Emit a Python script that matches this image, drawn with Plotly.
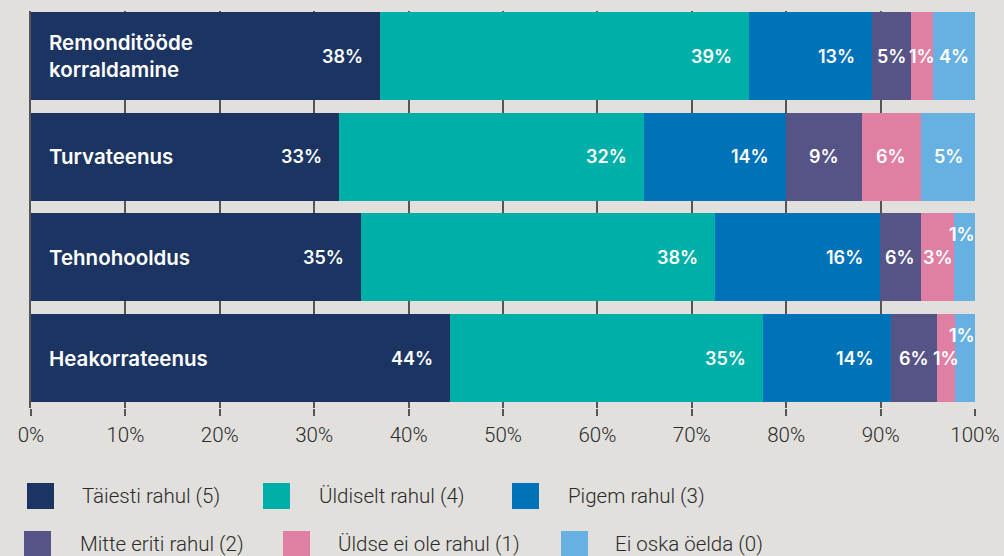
import plotly.graph_objects as go

# ---------------- data ----------------
categories = ["Remonditööde<br>korraldamine", "Turvateenus", "Tehnohooldus", "Heakorrateenus"]
series_names = ["Täiesti rahul (5)", "Üldiselt rahul (4)", "Pigem rahul (3)",
                "Mitte eriti rahul (2)", "Üldse ei ole rahul (1)", "Ei oska öelda (0)"]
# bar lengths (percent) per series, rows in category order
s5 = [37.0, 32.6, 35.0, 44.4]
s4 = [39.1, 32.3, 37.5, 33.1]
s3 = [13.0, 15.1, 17.4, 13.6]
s2 = [4.1, 8.0, 4.4, 4.9]
s1 = [2.3, 6.3, 3.5, 1.9]
s0 = [4.5, 5.7, 2.2, 2.1]
# printed labels
l5 = ["38%", "33%", "35%", "44%"]
l4 = ["39%", "32%", "38%", "35%"]
l3 = ["13%", "14%", "16%", "14%"]
l2 = ["5%", "9%", "6%", "6%"]
l1 = ["1%", "6%", "3%", "1%"]
l0 = ["4%", "5%", "1%", "1%"]
x_ticks = [0, 10, 20, 30, 40, 50, 60, 70, 80, 90, 100]
x_tick_labels = [f"{t}%" for t in x_ticks]

colors = ["#1c3461", "#00afa8", "#0072b8", "#565386", "#e07fa4", "#66b1e1"]
values = [s5, s4, s3, s2, s1, s0]
labels = [l5, l4, l3, l2, l1, l0]

BG = "#e1e0dc"
W, H = 1004, 556
L, R, T, B = 31, 29, 11, 148   # plot area: x 31..975, y 11..408

fig = go.Figure()
for name, vals, col in zip(series_names, values, colors):
    fig.add_trace(go.Bar(
        y=categories, x=vals, name=name, orientation="h",
        marker=dict(color=col, line=dict(width=0)),
        hoverinfo="skip", showlegend=False,
    ))

annotations = []
# value labels
for ci, cat in enumerate(categories):
    cum = 0.0
    for si in range(len(values)):
        v = values[si][ci]
        start, end = cum, cum + v
        cum = end
        txt = labels[si][ci]
        yshift = 0
        if v >= 9.5:
            x, anchor, xshift = end, "right", -15
        else:
            x, anchor, xshift = (start + end) / 2, "center", 0
            if si == len(values) - 1 and v < 3:
                yshift = 23
                xshift = -3
        annotations.append(dict(
            x=x, y=cat, xref="x", yref="y", text=txt, showarrow=False,
            xanchor=anchor, yanchor="middle", xshift=xshift, yshift=yshift,
            font=dict(family="Inter, Roboto, sans-serif", size=18, color="white", weight=600),
        ))
    # category names
    annotations.append(dict(
        x=0, y=cat, xref="x", yref="y", text=cat, showarrow=False,
        xanchor="left", yanchor="middle", xshift=16, align="left",
        font=dict(family="Inter, Roboto, sans-serif", size=20.5, color="white", weight=600),
    ))

# manual legend (layout positions in pixels converted to paper coords)
pw, ph = W - L - R, H - T - B
def px_x(p):
    return (p - L) / pw
def px_y(p):
    return (H - B - p) / ph

legend_layout = [  # (square left px, text left px, center y px)
    (27, 80, 496), (263, 317, 496), (512, 566, 496),
    (24, 78, 544), (283, 336, 544), (561, 613, 544),
]
shapes = []
for (sx, tx, cy), name, col in zip(legend_layout, series_names, colors):
    shapes.append(dict(type="rect", xref="paper", yref="paper",
                       x0=px_x(sx), x1=px_x(sx + 27), y0=px_y(cy + 13), y1=px_y(cy - 13),
                       fillcolor=col, line=dict(width=0), layer="above"))
    annotations.append(dict(x=px_x(tx), y=px_y(cy), xref="paper", yref="paper",
                            text=name, showarrow=False, xanchor="left", yanchor="middle",
                            font=dict(family="Roboto, Inter, sans-serif", size=20.5,
                                      color="#2a2a2a", weight=300)))

fig.update_layout(
    width=W, height=H,
    margin=dict(l=L, r=R, t=T, b=B, autoexpand=False),
    paper_bgcolor=BG, plot_bgcolor=BG,
    barmode="stack", bargap=0.126,
    showlegend=False,
    annotations=annotations, shapes=shapes,
    xaxis=dict(range=[0, 100], tickvals=x_ticks, ticktext=x_tick_labels,
               showgrid=True, gridcolor="#555555", gridwidth=1.6,
               ticks="outside", ticklen=7, tickwidth=1.6, tickcolor="#555555",
               zeroline=False, showline=False,
               tickfont=dict(family="Roboto, Inter, sans-serif", size=20.5, color="#2a2a2a", weight=300),
               ticklabelstandoff=1, fixedrange=True),
    yaxis=dict(categoryorder="array", categoryarray=categories,
               range=[3.496, -0.447], showticklabels=False, showgrid=False,
               zeroline=False, showline=True, linecolor="#555555", linewidth=2,
               ticks="", fixedrange=True),
    font=dict(family="Roboto, Inter, sans-serif"),
)

fig.write_html("out.html", config={"displayModeBar": False},
               post_script="document.body.style.margin='0';document.body.style.background='" + BG + "';")
